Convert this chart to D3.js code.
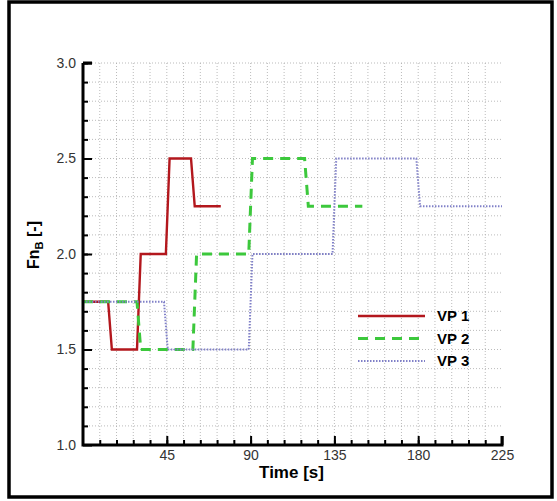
<!DOCTYPE html>
<html>
<meta charset="utf-8">
<style>
body { margin: 0; background: #fff; }
svg { display: block; font-family: "Liberation Sans", Arial, sans-serif; }
.grid line { stroke: #aaa; stroke-width: 0.8; stroke-dasharray: 1,2; }
</style>
<body>
<div id="chart"></div>
<script src="https://d3js.org/d3.v7.min.js"></script>
<script>
// VP 1 (red, solid)
var vp1Time = [0, 13.5, 15.5, 29, 31, 44.5, 46.5, 58, 60, 74];
var vp1Fn   = [1.75, 1.75, 1.5, 1.5, 2.0, 2.0, 2.5, 2.5, 2.25, 2.25];
// VP 2 (green, dashed)
var vp2Time = [0, 29, 31, 59, 61, 89, 91, 119, 121, 150];
var vp2Fn   = [1.75, 1.75, 1.5, 1.5, 2.0, 2.0, 2.5, 2.5, 2.25, 2.25];
// VP 3 (blue, dotted)
var vp3Time = [0, 43.5, 45.5, 89, 91, 134, 136, 179, 181, 225];
var vp3Fn   = [1.75, 1.75, 1.5, 1.5, 2.0, 2.0, 2.5, 2.5, 2.25, 2.25];

var xTicks = [45, 90, 135, 180, 225];
var yTicks = [1.0, 1.5, 2.0, 2.5, 3.0];
var seriesNames = ["VP 1", "VP 2", "VP 3"];

var W = 557, H = 501;
var margin = {left: 83, right: 55, top: 63, bottom: 56};

var svg = d3.select("#chart").append("svg")
  .attr("width", W)
  .attr("height", H);

// outer frame
svg.append("rect")
  .attr("x", 9).attr("y", 2)
  .attr("width", 543).attr("height", 495)
  .attr("fill", "none")
  .attr("stroke", "#000")
  .attr("stroke-width", 3.5);

var x = d3.scaleLinear().domain([0, 225]).range([margin.left, W - margin.right]);
var y = d3.scaleLinear().domain([1, 3]).range([H - margin.bottom, margin.top]);

// grid
var grid = svg.append("g").attr("class", "grid");
grid.selectAll(".gx").data(d3.range(9, 225, 9)).enter().append("line")
  .attr("x1", d => x(d)).attr("x2", d => x(d))
  .attr("y1", y(1)).attr("y2", y(3));
grid.selectAll(".gy").data(d3.range(11, 31).map(d => d / 10)).enter().append("line")
  .attr("x1", x(0)).attr("x2", x(225))
  .attr("y1", d => y(d)).attr("y2", d => y(d));

// series
var line = d3.line().x(d => x(d[0])).y(d => y(d[1]));
var series = [
  {t: vp1Time, v: vp1Fn, color: "#b3171d", width: 2.4, dash: null},
  {t: vp2Time, v: vp2Fn, color: "#3cc83c", width: 3, dash: "10,7"},
  {t: vp3Time, v: vp3Fn, color: "#8080c8", width: 2, dash: "1.5,1.5"}
];
series.forEach(function(s) {
  svg.append("path")
    .datum(d3.zip(s.t, s.v))
    .attr("fill", "none")
    .attr("stroke", s.color)
    .attr("stroke-width", s.width)
    .attr("stroke-dasharray", s.dash)
    .attr("d", line);
});

// axes
var xAxis = d3.axisBottom(x).tickValues(xTicks).tickSize(-9).tickPadding(10).tickFormat(d3.format("d"));
var yAxis = d3.axisLeft(y).tickValues(yTicks).tickSize(-9).tickPadding(7).tickFormat(d3.format(".1f"));
var xMinor = d3.axisBottom(x).tickValues(d3.range(9, 225, 9)).tickSize(-5).tickFormat("");
var yMinor = d3.axisLeft(y).tickValues(d3.range(11, 31).map(d => d / 10)).tickSize(-5).tickFormat("");

function styleAxis(g) {
  g.select(".domain").remove();
  g.selectAll("line").attr("stroke", "#000").attr("stroke-width", 2);
  g.selectAll("text").attr("fill", "#333").style("font-size", "14px");
}
svg.append("g").attr("transform", "translate(0," + y(1) + ")").call(xMinor).call(styleAxis);
svg.append("g").attr("transform", "translate(" + x(0) + ",0)").call(yMinor).call(styleAxis);
svg.append("g").attr("transform", "translate(0," + y(1) + ")").call(xAxis).call(styleAxis)
  .selectAll("text").attr("dy", "0.35em");
svg.append("g").attr("transform", "translate(" + x(0) + ",0)").call(yAxis).call(styleAxis);

// axis lines
svg.append("path")
  .attr("d", "M" + x(0) + "," + y(3) + "V" + y(1) + "H" + x(225) + "V" + (y(1) - 9))
  .attr("fill", "none").attr("stroke", "#000").attr("stroke-width", 3);
svg.append("line")
  .attr("x1", x(0)).attr("x2", x(0) + 9).attr("y1", y(3)).attr("y2", y(3))
  .attr("stroke", "#000").attr("stroke-width", 3);

// axis titles
svg.append("text")
  .attr("x", x(112.5) - 1).attr("y", 478)
  .attr("text-anchor", "middle")
  .style("font-size", "17px").style("font-weight", "bold")
  .text("Time [s]");

var yt = svg.append("text")
  .attr("transform", "translate(39,245) rotate(-90)")
  .attr("text-anchor", "middle")
  .style("font-size", "16px").style("font-weight", "bold");
yt.append("tspan").text("Fn");
yt.append("tspan").attr("dy", 4).style("font-size", "11px").text("B");
yt.append("tspan").attr("dy", -4).text(" [-]");

// legend
var legend = svg.append("g");
seriesNames.forEach(function(name, i) {
  var ly = 316 + i * 22.5;
  var s = series[i];
  legend.append("line")
    .attr("x1", 358).attr("x2", 425).attr("y1", ly).attr("y2", ly)
    .attr("stroke", s.color).attr("stroke-width", s.width)
    .attr("stroke-dasharray", s.dash);
  legend.append("text")
    .attr("x", 437).attr("y", ly).attr("dy", "0.35em")
    .style("font-size", "15px").style("font-weight", "bold")
    .text(name);
});
</script>
</body>
</html>
